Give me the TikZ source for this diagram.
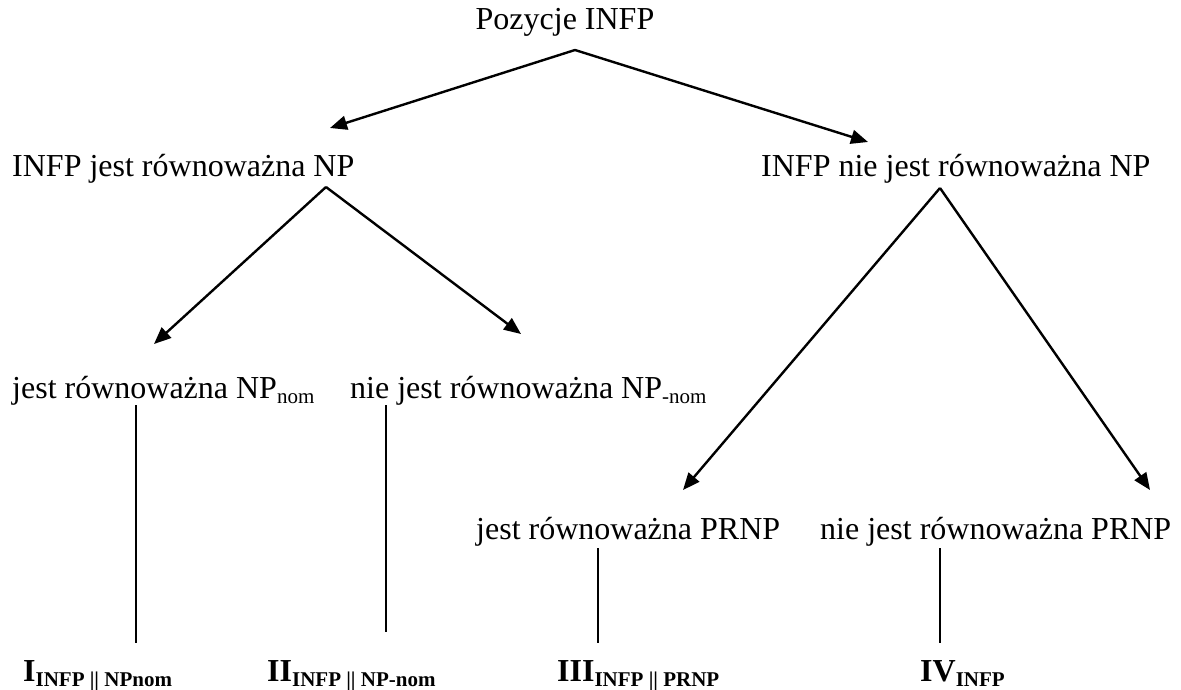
\documentclass[tikz,border=0pt]{standalone}
\usepackage{fontspec}
\setmainfont{Liberation Serif}
\usetikzlibrary{arrows.meta}
\newcommand\lowsub[1]{\raisebox{-5pt}{\fontsize{21}{21}\selectfont #1}}

\begin{document}
\begin{tikzpicture}[x=1pt,y=-1pt,font=\fontsize{32}{38}\selectfont,
    every node/.style={inner sep=0pt,anchor=base west},
    arr/.style={line width=2.4pt,-{Triangle[length=17pt,width=14pt]}},
    stem/.style={line width=1.6pt}]
      \useasboundingbox (0,0) rectangle (1181,690);
      \node[anchor=base] (root) at (565,30) {Pozycje INFP};
      \node (L) at (12,177) {INFP jest równoważna NP};
      \node (R) at (761,177) {INFP nie jest równoważna NP};
      \node (LL) at (12,398) {jest równoważna NP\lowsub{nom}};
      \node (LR) at (350,398) {nie jest równoważna NP\lowsub{-nom}};
      \node (RL) at (476,539) {jest równoważna PRNP};
      \node (RR) at (820,539) {nie jest równoważna PRNP};
      \node (I) at (23,681) {\textbf{I\lowsub{INFP || NPnom}}};
      \node (II) at (267,681) {\textbf{II\lowsub{INFP || NP-nom}}};
      \node (III) at (557,681) {\textbf{III\lowsub{INFP || PRNP}}};
      \node (IV) at (920,681) {\textbf{IV\lowsub{INFP}}};
      % arrow ends
      \coordinate (root-s) at (575,50);
      \coordinate (L-n) at (330,128); \coordinate (R-n) at (868,142);
      \coordinate (L-s) at (326,187); \coordinate (R-s) at (940,188);
      \coordinate (LL-n) at (154,344); \coordinate (LR-n) at (521,334);
      \coordinate (RL-n) at (683,490); \coordinate (RR-n) at (1150,490);
      \coordinate (LL-s) at (136,405); \coordinate (I-n) at (136,643);
      \coordinate (LR-s) at (386,405); \coordinate (II-n) at (386,632);
      \coordinate (RL-s) at (598,548); \coordinate (III-n) at (598,643);
      \coordinate (RR-s) at (940,548); \coordinate (IV-n) at (940,643);
      \draw[arr] (root-s)--(L-n); \draw[arr] (root-s)--(R-n);
      \draw[arr] (L-s)--(LL-n); \draw[arr] (L-s)--(LR-n);
      \draw[arr] (R-s)--(RL-n); \draw[arr] (R-s)--(RR-n);
      \draw[stem] (LL-s)--(I-n); \draw[stem] (LR-s)--(II-n);
      \draw[stem] (RL-s)--(III-n); \draw[stem] (RR-s)--(IV-n);
    \end{tikzpicture}
\end{document}
